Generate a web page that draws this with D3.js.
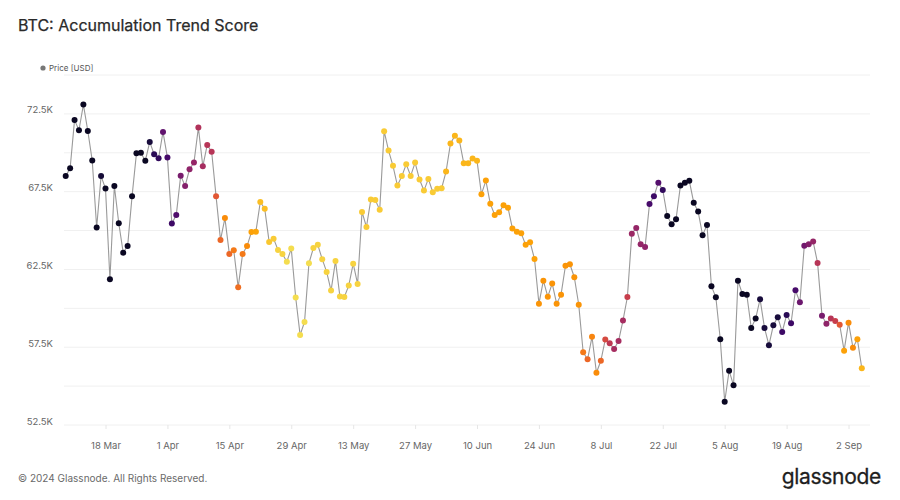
<!DOCTYPE html>
<html>
<head>
<meta charset="utf-8">
<script src="https://cdn.jsdelivr.net/npm/d3@7"></script>
<style>
  html, body { margin: 0; padding: 0; background: #fff; }
  svg { display: block; font-family: Inter, "Noto Sans", sans-serif; }
</style>
</head>
<body>
<svg id="chart" width="900" height="500"></svg>
<script>
// ---- data ----
const startDate = "2024-03-09";
const price = [
  68.5, 69.0, 72.1, 71.45, 73.1, 71.4, 69.5, 65.2, 68.5, 67.7,
  61.87, 67.87, 65.47, 63.58, 64.0, 67.2, 69.97, 70.0, 69.48, 70.7,
  69.9, 69.65, 71.34, 69.69, 65.45, 66.0, 68.53, 67.87, 68.94, 69.37,
  71.62, 69.13, 70.5, 70.07, 67.2, 64.4, 65.8, 63.5, 63.73, 61.35,
  63.5, 64.0, 64.9, 64.93, 66.84, 66.4, 64.27, 64.48, 63.75, 63.5,
  63.0, 63.84, 60.7, 58.29, 59.12, 62.9, 63.88, 64.08, 63.16, 62.34,
  61.14, 63.05, 60.76, 60.73, 61.46, 62.87, 61.57, 66.2, 65.23, 67.0,
  66.97, 66.33, 71.39, 70.14, 69.16, 67.89, 68.5, 69.26, 68.51, 69.37,
  68.28, 67.57, 68.32, 67.46, 67.68, 67.72, 68.79, 70.6, 71.1, 70.79,
  69.33, 69.33, 69.63, 69.48, 67.34, 68.21, 66.73, 66.0, 66.17, 66.62,
  66.47, 65.14, 64.93, 64.82, 64.08, 64.25, 63.17, 60.3, 61.78, 60.75,
  61.59, 60.3, 60.88, 62.74, 62.83, 62.0, 60.23, 57.17, 56.72, 58.17,
  55.86, 56.63, 58.0, 57.75, 57.39, 57.9, 59.21, 60.73, 64.8, 65.17,
  64.12, 63.95, 66.71, 67.2, 68.08, 67.61, 65.94, 65.4, 65.72, 67.9,
  68.08, 68.2, 66.79, 66.22, 64.7, 65.36, 61.42, 60.71, 58.01, 54.0,
  55.99, 55.05, 61.78, 60.92, 60.88, 58.74, 59.34, 60.59, 58.74, 57.63,
  58.91, 59.43, 58.48, 59.57, 59.04, 61.16, 60.39, 64.03, 64.12, 64.29,
  62.92, 59.53, 59.01, 59.34, 59.19, 58.95, 57.28, 59.08, 57.47, 58.01,
  56.15
];
const score = [
  1, 1, 1, 1, 1, 1, 1, 1, 0.96, 1,
  1, 1, 1, 1, 1, 1, 1, 1, 1, 0.95,
  0.9, 0.88, 0.75, 0.82, 0.85, 0.8, 0.68, 0.65, 0.62, 0.6,
  0.52, 0.55, 0.5, 0.5, 0.35, 0.3, 0.2, 0.3, 0.25, 0.28,
  0.25, 0.2, 0.15, 0.14, 0.08, 0.08, 0.06, 0.05, 0.03, 0.03,
  0.01, 0.01, 0.01, 0.01, 0.01, 0.01, 0.03, 0.03, 0.03, 0.03,
  0.03, 0.03, 0.03, 0.03, 0.03, 0.03, 0.03, 0.05, 0.05, 0.05,
  0.05, 0.05, 0.05, 0.05, 0.05, 0.05, 0.05, 0.05, 0.05, 0.05,
  0.05, 0.05, 0.05, 0.05, 0.05, 0.05, 0.1, 0.1, 0.1, 0.1,
  0.1, 0.1, 0.1, 0.1, 0.15, 0.15, 0.15, 0.15, 0.15, 0.15,
  0.15, 0.15, 0.15, 0.15, 0.15, 0.15, 0.15, 0.18, 0.18, 0.18,
  0.18, 0.18, 0.18, 0.18, 0.18, 0.18, 0.18, 0.25, 0.3, 0.22,
  0.2, 0.3, 0.4, 0.48, 0.55, 0.55, 0.55, 0.45, 0.58, 0.6,
  0.6, 0.62, 0.82, 0.85, 0.78, 0.88, 1, 1, 1, 1,
  1, 1, 1, 1, 1, 1, 1, 1, 1, 1,
  1, 1, 1, 1, 1, 1, 1, 0.95, 0.95, 0.95,
  0.95, 0.95, 0.85, 0.9, 0.85, 0.82, 0.72, 0.7, 0.65, 0.6,
  0.5, 0.68, 0.62, 0.5, 0.45, 0.35, 0.15, 0.2, 0.2, 0.15,
  0.1
];
const xTickLabels = ["18 Mar","1 Apr","15 Apr","29 Apr","13 May","27 May","10 Jun","24 Jun","8 Jul","22 Jul","5 Aug","19 Aug","2 Sep"];
const xTickDates = ["2024-03-18","2024-04-01","2024-04-15","2024-04-29","2024-05-13","2024-05-27","2024-06-10","2024-06-24","2024-07-08","2024-07-22","2024-08-05","2024-08-19","2024-09-02"];
const yGridValues = [52.5, 55, 57.5, 60, 62.5, 65, 67.5, 70, 72.5, 75];
const yTickValues = [52.5, 57.5, 62.5, 67.5, 72.5];

// ---- build ----
const parse = d3.utcParse("%Y-%m-%d");
const d0 = parse(startDate);
const dates = price.map((_, i) => d3.utcDay.offset(d0, i));
const data = price.map((p, i) => ({ date: dates[i], price: p, score: score[i] }));

const svg = d3.select("#chart");
const plot = { left: 64, right: 870, top: 75, bottom: 425 };

const x = d3.scaleUtc()
  .domain([dates[0], dates[dates.length - 1]])
  .range([65.7, 861.8]);
const y = d3.scaleLinear().domain([52.5, 75]).range([plot.bottom, plot.top]);
const color = s => d3.interpolateInferno(0.06 + 0.86 * (1 - s));

// title
svg.append("text").attr("x", 18).attr("y", 31)
  .attr("font-size", 16).attr("font-weight", 400).attr("fill", "#2a2a2a")
  .attr("stroke", "#2a2a2a").attr("stroke-width", 0.25)
  .text("BTC: Accumulation Trend Score");

// legend
svg.append("circle").attr("cx", 43).attr("cy", 68).attr("r", 2.6).attr("fill", "#777");
svg.append("text").attr("x", 49).attr("y", 71)
  .attr("font-size", 8).attr("fill", "#555").text("Price [USD]");

// grid
svg.append("g").selectAll("line").data(yGridValues).join("line")
  .attr("x1", plot.left).attr("x2", plot.right)
  .attr("y1", d => y(d)).attr("y2", d => y(d))
  .attr("stroke", "#f0f0f0").attr("stroke-width", 1);

// y axis labels
const yAxis = d3.axisLeft(y).tickValues(yTickValues)
  .tickFormat(d => d3.format(".1f")(d) + "K").tickSize(0).tickPadding(0);
const gy = svg.append("g").attr("transform", "translate(53,0)").call(yAxis);
gy.select(".domain").remove();
gy.selectAll("text").attr("font-size", 9.5).attr("fill", "#666")
  .attr("font-family", "Inter, 'Noto Sans', sans-serif").attr("dy", "-0.1em");

// x axis
const xAxis = d3.axisBottom(x).tickValues(xTickDates.map(parse))
  .tickFormat((d, i) => xTickLabels[i]).tickSize(4).tickPadding(13);
const gx = svg.append("g").attr("transform", `translate(0,${plot.bottom})`).call(xAxis);
gx.select(".domain").remove();
gx.selectAll("line").attr("stroke", "#e6e6e6");
gx.selectAll("text").attr("font-size", 9.5).attr("fill", "#666")
  .attr("font-family", "Inter, 'Noto Sans', sans-serif");

// line
const line = d3.line().x(d => x(d.date)).y(d => y(d.price));
svg.append("path").datum(data).attr("d", line)
  .attr("fill", "none").attr("stroke", "#9a9a9a").attr("stroke-width", 1.1);

// points
svg.append("g").selectAll("circle").data(data).join("circle")
  .attr("cx", d => x(d.date)).attr("cy", d => y(d.price)).attr("r", 3)
  .attr("fill", d => color(d.score));

// footer
svg.append("text").attr("x", 18).attr("y", 482)
  .attr("font-size", 10).attr("fill", "#6a6a6a")
  .text("© 2024 Glassnode. All Rights Reserved.");
svg.append("text").attr("x", 881).attr("y", 484).attr("text-anchor", "end")
  .attr("font-size", 21).attr("fill", "#1e1e1e").attr("letter-spacing", -0.3)
  .attr("stroke", "#1e1e1e").attr("stroke-width", 0.3)
  .text("glassnode");
</script>
</body>
</html>
